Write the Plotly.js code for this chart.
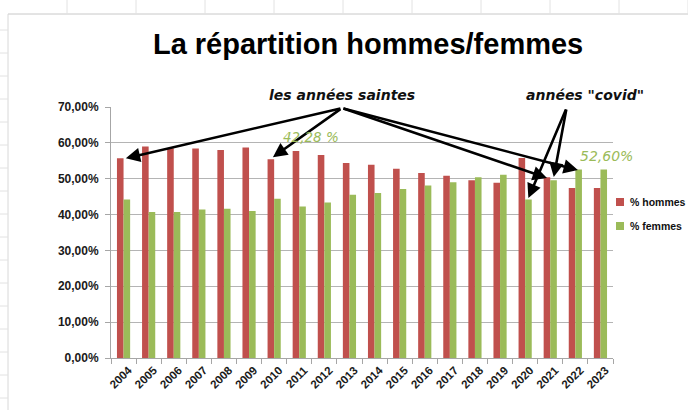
<!DOCTYPE html>
<html>
<head>
<meta charset="utf-8">
<script src="https://cdn.plot.ly/plotly-3.0.1.min.js"></script>
<style>html,body{margin:0;padding:0;background:#fff;}#chart{width:688px;height:410px;}</style>
</head>
<body>
<div id="chart"></div>
<script>
// ---- data ----
var annees = ["2004","2005","2006","2007","2008","2009","2010","2011","2012","2013",
              "2014","2015","2016","2017","2018","2019","2020","2021","2022","2023"];
var hommes = [0.557,0.590,0.585,0.584,0.580,0.587,0.554,0.5772,0.566,0.544,
              0.539,0.528,0.516,0.508,0.496,0.489,0.558,0.504,0.474,0.474];
var femmes = [0.442,0.407,0.407,0.414,0.416,0.410,0.444,0.4228,0.434,0.455,
              0.460,0.471,0.481,0.490,0.504,0.511,0.442,0.496,0.526,0.526];
var serieNoms = ["% hommes","% femmes"];
var titre = "La répartition hommes/femmes";
var yTicks = [0,0.1,0.2,0.3,0.4,0.5,0.6,0.7];

var rouge = "#C0504D", vert = "#9BBB59";
var tickFont = {family:"Liberation Sans, Arial, sans-serif", size:12, color:"#1a1a1a", weight:"bold"};
var noteFont = {family:"DejaVu Sans, sans-serif", size:14, color:"#111", style:"italic", weight:"bold"};

var traces = [
  {type:"bar", x:annees, y:hommes, name:serieNoms[0], marker:{color:rouge}, showlegend:false, hoverinfo:"y"},
  {type:"bar", x:annees, y:femmes, name:serieNoms[1], marker:{color:vert}, showlegend:false, hoverinfo:"y"}
];

function idx(a){ return annees.indexOf(a); }
function fmt(v, sp){ return (v*100).toFixed(2).replace(".", ",") + (sp? " %":"%"); }

var L = 111, R = 75, T = 107, B = 52, W = 688, H = 410;
var pw = W - L - R, ph = H - T - B;
function px2x(p){ return (p - L) / pw; }
function px2y(p){ return (H - B - p) / ph; }

// arrow tails (data coords: category index / value)
var tailSaintes = {x: 8.7, y: 0.697};
var tailCovid = {x: 17.65, y: 0.697};

// arrow heads: [year, series array, offset along category, offset in value]
var headsSaintes = [["2004", hommes, 0.09, 0.0], ["2010", hommes, -0.05, 0.006],
                    ["2021", hommes, -0.13, -0.002], ["2022", femmes, 0.1, -0.002]];
var headsCovid = [["2020", femmes, 0.13, 0.004], ["2021", hommes, 0.14, 0.001]];

var ann = [];
function arrow(h, tail){
  ann.push({xref:"x", yref:"y", axref:"x", ayref:"y",
    x: idx(h[0]) + h[2], y: h[1][idx(h[0])] + h[3], ax: tail.x, ay: tail.y,
    text:"", showarrow:true, arrowhead:2, arrowsize:1.1, arrowwidth:2.6, arrowcolor:"#000", standoff:0});
}
headsSaintes.forEach(function(h){ arrow(h, tailSaintes); });
headsCovid.forEach(function(h){ arrow(h, tailCovid); });

ann.push({xref:"paper", yref:"paper", x:px2x(342), y:px2y(95), xanchor:"center", yanchor:"middle",
  text:"les années saintes", showarrow:false, font:noteFont});
ann.push({xref:"paper", yref:"paper", x:px2x(585), y:px2y(95), xanchor:"center", yanchor:"middle",
  text:"années \"covid\"", showarrow:false, font:noteFont});
ann.push({xref:"x", yref:"y", x:idx("2011")+0.45, y:femmes[idx("2011")]+0.194, xanchor:"center", yanchor:"middle",
  text:fmt(femmes[idx("2011")], true), showarrow:false,
  font:{family:"DejaVu Sans, sans-serif", size:13.5, color:vert, style:"italic"}});
ann.push({xref:"x", yref:"y", x:idx("2023")+0.25, y:femmes[idx("2023")]+0.037, xanchor:"center", yanchor:"middle",
  text:fmt(femmes[idx("2023")], false), showarrow:false,
  font:{family:"DejaVu Sans, sans-serif", size:14, color:vert, style:"italic"}});

// legend (drawn by hand to match the reference's small squares)
var legY = [202, 226], legCol = [rouge, vert];
var shapes = [];
for (var i=0;i<2;i++){
  shapes.push({type:"rect", xref:"paper", yref:"paper", x0:px2x(616), x1:px2x(624), y0:px2y(legY[i]-4), y1:px2y(legY[i]+4),
    fillcolor:legCol[i], line:{width:0}});
  ann.push({xref:"paper", yref:"paper", x:px2x(628), y:px2y(legY[i]), xanchor:"left", yanchor:"middle",
    text:serieNoms[i], showarrow:false,
    font:{family:"Liberation Sans, Arial, sans-serif", size:10.5, color:"#111", weight:"bold"}});
}

// faint spreadsheet background lines
shapes.push({type:"line", xref:"paper", yref:"paper", x0:px2x(8), x1:px2x(690), y0:px2y(14), y1:px2y(14), line:{color:"#c8c8c8", width:1}});
shapes.push({type:"line", xref:"paper", yref:"paper", x0:px2x(8), x1:px2x(8), y0:px2y(14), y1:px2y(412), line:{color:"#d8d8d8", width:1}});
for (var k=0;k<10;k++){
  var gx = 67 + k*69;
  shapes.push({type:"line", xref:"paper", yref:"paper", x0:px2x(gx), x1:px2x(gx), y0:px2y(14), y1:px2y(0), line:{color:"#e2e2e2", width:1}});
}
for (var r=0;r<17;r++){
  var gy = 30 + r*23;
  shapes.push({type:"line", xref:"paper", yref:"paper", x0:px2x(0), x1:px2x(8), y0:px2y(gy), y1:px2y(gy), line:{color:"#e2e2e2", width:1}});
}

var layout = {
  width:W, height:H,
  margin:{l:L, r:R, t:T, b:B, pad:0, autoexpand:false},
  paper_bgcolor:"#fff", plot_bgcolor:"#fff",
  separators:", ",
  showlegend:false,
  title:{text:titre, x:0.535, xanchor:"center", y:0.893, yanchor:"middle", xref:"container", yref:"container",
    font:{family:"Liberation Sans, Arial, sans-serif", size:29, color:"#000", weight:"bold"}},
  barmode:"group", bargap:0.475, bargroupgap:0,
  xaxis:{type:"category", range:[-0.5, annees.length-0.5], autorange:false,
    tickson:"boundaries", ticks:"outside", ticklen:5, tickcolor:"#a6a6a6",
    showline:true, linecolor:"#a6a6a6", linewidth:1, showgrid:false, tickangle:-45, automargin:false,
    ticklabelshift:5,
    tickfont:{family:"Liberation Sans, Arial, sans-serif", size:11.5, color:"#1a1a1a", weight:"bold"}},
  yaxis:{range:[0,0.7], autorange:false, tickvals:yTicks, tickformat:".2%", ticks:"outside", ticklen:5, tickcolor:"#a6a6a6",
    showline:true, linecolor:"#a6a6a6", linewidth:1, showgrid:true, gridcolor:"#b4b4b4", gridwidth:1,
    zeroline:false, tickfont:tickFont, ticklabelstandoff:4, automargin:false},
  annotations:ann, shapes:shapes
};

Plotly.newPlot("chart", traces, layout, {displayModeBar:false, staticPlot:true});
</script>
</body>
</html>
